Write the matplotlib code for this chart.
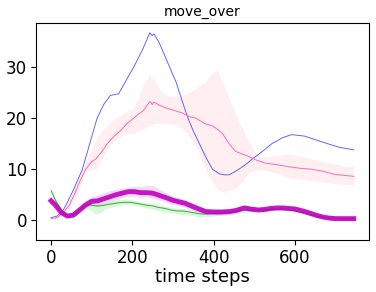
import matplotlib
matplotlib.use("Agg")
import matplotlib.pyplot as plt

# blue series
blue_x = [0, 15, 30, 40, 55, 77, 95, 113, 130, 146, 166, 185, 203, 225, 243, 249, 253, 265, 276, 292, 308, 322, 337, 350, 365, 380, 397, 414, 426, 438, 450, 462, 480, 495, 520, 543, 570, 592, 624, 650, 681, 710, 745]
blue_y = [0.5, 0.8, 2.0, 3.5, 6.0, 10.0, 15.0, 20.0, 22.8, 24.5, 24.8, 27.5, 30.0, 33.5, 36.8, 36.2, 36.6, 35.0, 33.0, 30.0, 27.0, 23.5, 20.0, 17.5, 15.0, 12.5, 10.0, 9.1, 8.9, 8.9, 9.4, 10.0, 11.0, 12.0, 13.5, 15.0, 16.2, 16.8, 16.5, 15.8, 15.0, 14.3, 13.8]

# pink series + band
pink_x = [0, 15, 30, 45, 57, 70, 85, 100, 110, 125, 138, 155, 170, 187, 203, 215, 227, 243, 249, 253, 268, 284, 305, 324, 340, 357, 377, 397, 410, 422, 438, 454, 470, 487, 505, 527, 555, 584, 612, 641, 670, 697, 720, 745]
pink_y = [0.3, 0.5, 1.5, 3.0, 5.0, 7.5, 10.0, 11.5, 12.0, 13.5, 15.0, 16.5, 17.5, 19.0, 20.0, 20.8, 21.5, 23.3, 22.7, 23.2, 22.5, 22.0, 21.5, 21.0, 20.3, 20.0, 19.0, 18.5, 17.8, 17.0, 15.0, 13.5, 13.0, 12.5, 11.8, 11.2, 10.9, 10.5, 10.2, 10.0, 9.6, 9.0, 8.8, 8.6]
pink_lo = [0.2, 0.3, 1.0, 2.0, 3.5, 6.0, 9.5, 9.8, 10.0, 12.0, 14.0, 15.5, 16.5, 17.0, 17.0, 17.5, 18.0, 18.5, 18.8, 19.0, 19.0, 19.0, 18.8, 18.0, 16.5, 14.5, 10.5, 7.5, 6.0, 5.5, 5.8, 6.2, 7.5, 9.5, 9.8, 9.8, 9.2, 8.3, 8.0, 7.8, 7.5, 7.2, 7.0, 7.0]
pink_hi = [0.4, 0.7, 2.0, 4.0, 6.5, 9.0, 11.5, 14.0, 16.0, 17.5, 18.5, 20.0, 20.5, 21.5, 22.0, 24.0, 26.5, 28.8, 27.5, 28.0, 25.5, 24.5, 24.3, 24.5, 25.0, 26.0, 27.0, 29.0, 29.5, 27.0, 24.0, 21.0, 18.0, 15.5, 13.0, 12.3, 12.7, 13.0, 12.6, 12.0, 11.5, 11.0, 10.7, 10.5]

# green series + band
green_x = [0, 10, 25, 35, 45, 60, 75, 85, 95, 110, 120, 135, 150, 165, 180, 195, 210, 230, 250, 265, 280, 295, 310, 325, 340, 355, 370, 385, 400, 420, 440, 460, 480, 500, 520, 540, 560, 580, 600, 620, 640, 660, 680, 700, 720, 745]
green_y = [5.8, 4.0, 2.0, 1.0, 0.8, 1.5, 2.3, 2.8, 3.0, 2.8, 2.8, 3.0, 3.2, 3.4, 3.5, 3.5, 3.3, 3.0, 2.8, 2.5, 2.3, 2.0, 1.8, 1.8, 1.6, 1.4, 1.2, 1.2, 1.3, 1.4, 1.5, 1.8, 2.0, 2.0, 2.0, 2.1, 2.2, 2.1, 1.8, 1.4, 1.0, 0.7, 0.5, 0.4, 0.3, 0.3]
green_lo = [5.5, 3.6, 1.6, 0.7, 0.5, 1.0, 1.8, 2.2, 2.0, 1.2, 1.5, 2.2, 2.6, 2.9, 3.0, 3.0, 2.8, 2.5, 2.2, 1.9, 1.7, 1.5, 1.3, 1.1, 1.0, 0.8, 0.6, 0.7, 0.8, 1.0, 1.1, 1.4, 1.6, 1.7, 1.7, 1.8, 1.9, 1.8, 1.5, 1.1, 0.7, 0.4, 0.3, 0.2, 0.2, 0.2]
green_hi = [6.1, 4.4, 2.4, 1.3, 1.1, 2.0, 2.8, 3.3, 3.5, 3.4, 3.3, 3.5, 3.8, 4.0, 4.1, 4.1, 3.8, 3.5, 3.3, 3.0, 2.8, 2.5, 2.3, 2.3, 2.1, 1.9, 1.7, 1.7, 1.8, 1.8, 1.9, 2.2, 2.4, 2.3, 2.3, 2.4, 2.5, 2.4, 2.1, 1.7, 1.3, 1.0, 0.7, 0.6, 0.5, 0.4]

# magenta series + band
mag_x = [0, 10, 25, 40, 55, 70, 85, 100, 115, 130, 145, 160, 175, 190, 205, 220, 235, 250, 265, 280, 300, 315, 330, 345, 360, 380, 400, 420, 440, 455, 475, 490, 510, 525, 540, 555, 570, 585, 600, 620, 640, 655, 670, 685, 700, 720, 745]
mag_y = [3.8, 3.0, 1.5, 0.8, 1.0, 2.0, 3.0, 3.7, 3.8, 4.2, 4.6, 5.0, 5.3, 5.6, 5.6, 5.4, 5.4, 5.3, 4.9, 4.5, 3.9, 3.6, 3.3, 2.8, 2.3, 1.7, 1.6, 1.6, 1.7, 1.9, 2.4, 2.2, 2.0, 2.1, 2.3, 2.4, 2.4, 2.3, 2.2, 1.8, 1.3, 0.9, 0.6, 0.4, 0.3, 0.3, 0.3]
mag_lo = [3.3, 2.5, 1.1, 0.5, 0.6, 1.4, 2.3, 2.8, 2.8, 3.2, 3.6, 4.0, 4.4, 4.6, 4.6, 4.5, 4.5, 4.3, 4.0, 3.6, 3.1, 2.8, 2.5, 2.0, 1.6, 1.1, 1.0, 1.0, 1.1, 1.4, 1.9, 1.7, 1.6, 1.7, 1.9, 2.0, 2.0, 1.9, 1.8, 1.4, 0.9, 0.6, 0.4, 0.2, 0.2, 0.2, 0.2]
mag_hi = [4.3, 3.5, 1.9, 1.1, 1.4, 2.6, 3.8, 4.6, 5.0, 5.4, 5.8, 6.1, 6.3, 6.5, 6.6, 6.6, 6.8, 6.9, 6.2, 5.5, 4.7, 4.4, 4.0, 3.5, 3.0, 2.3, 2.2, 2.2, 2.3, 2.5, 3.0, 2.7, 2.4, 2.5, 2.7, 2.8, 2.8, 2.7, 2.6, 2.2, 1.7, 1.2, 0.8, 0.6, 0.4, 0.4, 0.4]

fig = plt.figure(figsize=(3.76, 2.92), dpi=100)
ax = fig.add_axes([0.096, 0.178, 0.885, 0.743])

ax.fill_between(pink_x, pink_lo, pink_hi, color='pink', alpha=0.25, linewidth=0)
ax.fill_between(green_x, green_lo, green_hi, color='lightgreen', alpha=0.35, linewidth=0)
ax.fill_between(mag_x, mag_lo, mag_hi, color='plum', alpha=0.35, linewidth=0)

ax.plot(blue_x, blue_y, color='b', alpha=0.6, linewidth=0.7)
ax.plot(pink_x, pink_y, color='hotpink', linewidth=0.7)
ax.plot(green_x, green_y, color='g', alpha=0.7, linewidth=0.7)
ax.plot(mag_x, mag_y, color='m', alpha=0.9, linewidth=3.5)

ax.set_xlim(-37, 782)
ax.set_ylim(-3.9, 38.7)
ax.set_xticks([0, 200, 400, 600])
ax.set_yticks([0, 10, 20, 30])
ax.tick_params(labelsize=12, length=3.5, pad=3)
ax.set_xlabel('time steps', fontsize=13, labelpad=1)
ax.set_title('move_over', fontsize=10, pad=5)

fig.savefig('out.png', dpi=100)
